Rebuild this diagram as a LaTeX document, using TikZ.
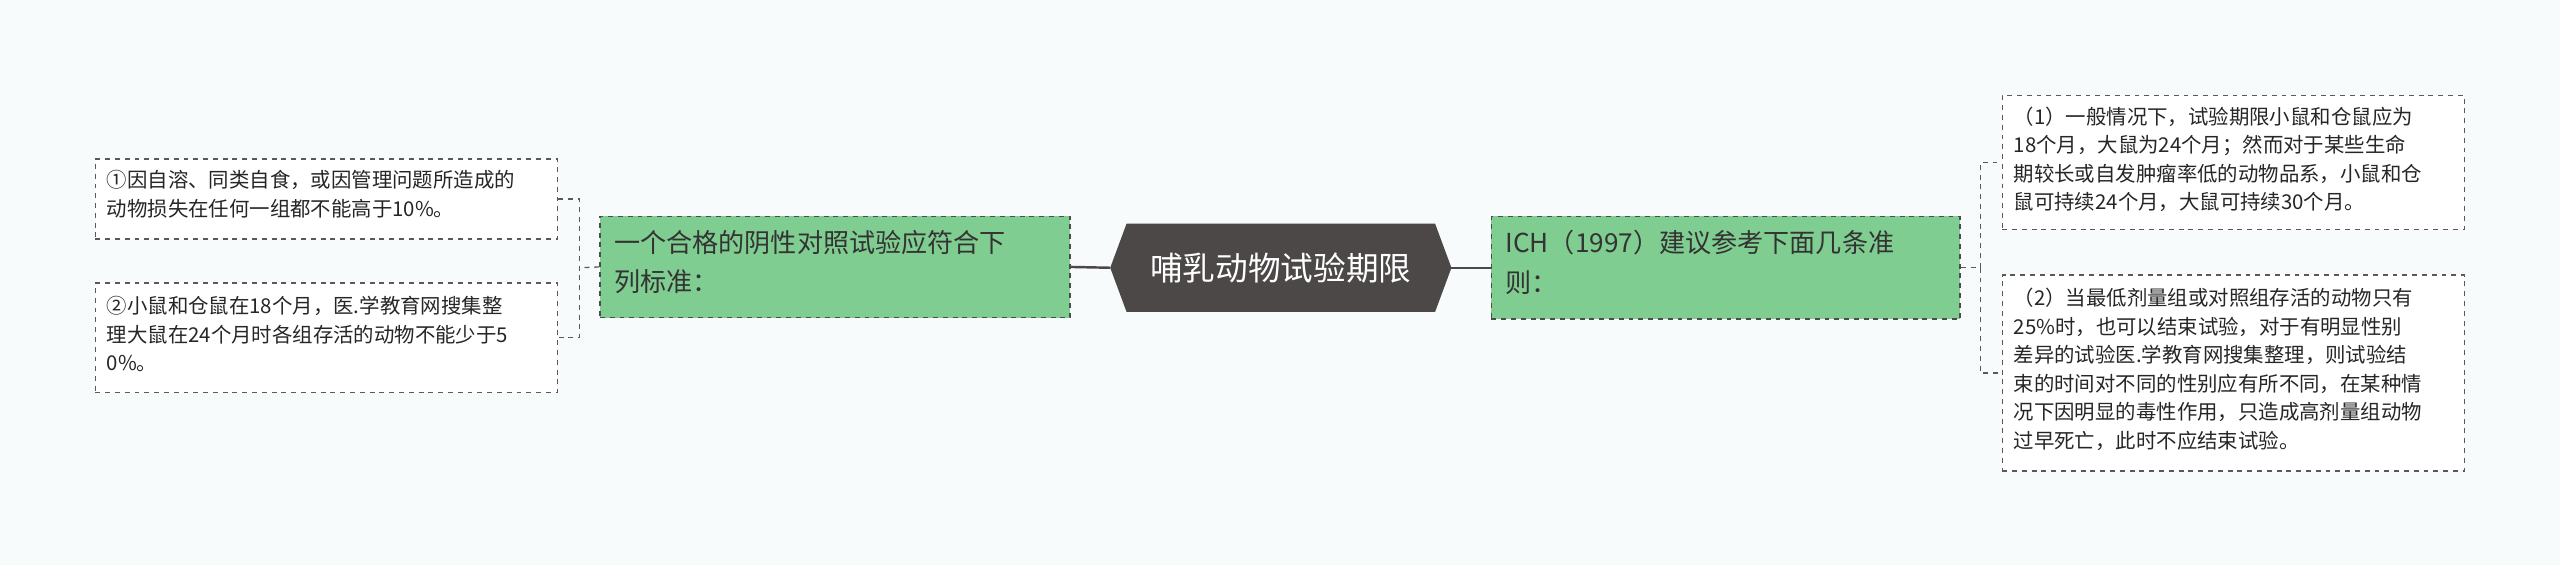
\documentclass[tikz,border=0pt]{standalone}
\usepackage{fontspec}
\setmainfont{Noto Sans CJK SC}
\begin{document}
\begin{tikzpicture}[x=1pt,y=-1pt,
 leaf/.style={draw=black!65,dashed,line width=0.8pt,fill=white,align=left,anchor=north west,inner sep=0pt,font=\fontsize{12.5}{17.5}\selectfont,text=black!85},
 mid/.style={draw=black!70,dashed,line width=1pt,align=left,anchor=north west,inner sep=0pt},
 midtext/.style={anchor=north west,align=left,font=\fontsize{16}{24}\selectfont,text=black!80,inner sep=0pt},
 con/.style={draw=black!65,dashed,line width=0.8pt}]
\definecolor{gr}{HTML}{80CD91}
\definecolor{dk}{HTML}{4D4848}
\definecolor{bg}{HTML}{F7FBFC}
\fill[bg] (0,0) rectangle (1568,346);
\useasboundingbox (0,0) rectangle (1568,346);
% center
\fill[dk] (680,164)--(690,137)--(879,137)--(889,164)--(879,191)--(690,191)--cycle;
\node[text=white,font=\fontsize{20}{24}\selectfont] (c) at (784.5,164) {哺乳动物试验期限};
\coordinate (cl) at (680,164); \coordinate (cr) at (889,164);
% mid nodes
\node[mid,fill=gr,minimum width=288pt,minimum height=62pt] (L) at (367,132) {};
\node[midtext] (Lt) at (376,141) {一个合格的阴性对照试验应符合下\\列标准：};
\node[mid,fill=gr,minimum width=287pt,minimum height=63pt] (R) at (913,132) {};
\node[midtext] (Rt) at (922,141) {ICH（1997）建议参考下面几条准\\则：};
% leaves
\node[leaf,minimum width=283pt,minimum height=49pt] (l1) at (58,97) {};
\node[leaf,draw=none,fill=none] (l1t) at (65,104) {①因自溶、同类自食，或因管理问题所造成的\\动物损失在任何一组都不能高于10\%。};
\node[leaf,minimum width=283pt,minimum height=67pt] (l2) at (58,173) {};
\node[leaf,draw=none,fill=none] (l2t) at (65,181) {②小鼠和仓鼠在18个月，医.学教育网搜集整\\理大鼠在24个月时各组存活的动物不能少于5\\0\%。};
\node[leaf,minimum width=283pt,minimum height=82pt] (r1) at (1226,58) {};
\node[leaf,draw=none,fill=none] (r1t) at (1233,65) {（1）一般情况下，试验期限小鼠和仓鼠应为\\18个月，大鼠为24个月；然而对于某些生命\\期较长或自发肿瘤率低的动物品系，小鼠和仓\\鼠可持续24个月，大鼠可持续30个月。};
\node[leaf,minimum width=283pt,minimum height=120pt] (r2) at (1226,168) {};
\node[leaf,draw=none,fill=none] (r2t) at (1233,176) {（2）当最低剂量组或对照组存活的动物只有\\25\%时，也可以结束试验，对于有明显性别\\差异的试验医.学教育网搜集整理，则试验结\\束的时间对不同的性别应有所不同，在某种情\\况下因明显的毒性作用，只造成高剂量组动物\\过早死亡，此时不应结束试验。};
% connectors
\draw[dk,line width=1.5pt] (cl) -- (L.east);
\draw[dk,line width=1.5pt] (cr) -- (R.west);
\coordinate (jl) at (355,164);
\draw[con] (L.west) -- (jl);
\draw[con] (l1.east) -| (jl) |- (l2.east);
\coordinate (jr) at (1213,164);
\draw[con] (R.east) -- (jr);
\draw[con] (jr) |- (r1.west);
\draw[con] (jr) |- (r2.west);
\end{tikzpicture}
\end{document}
